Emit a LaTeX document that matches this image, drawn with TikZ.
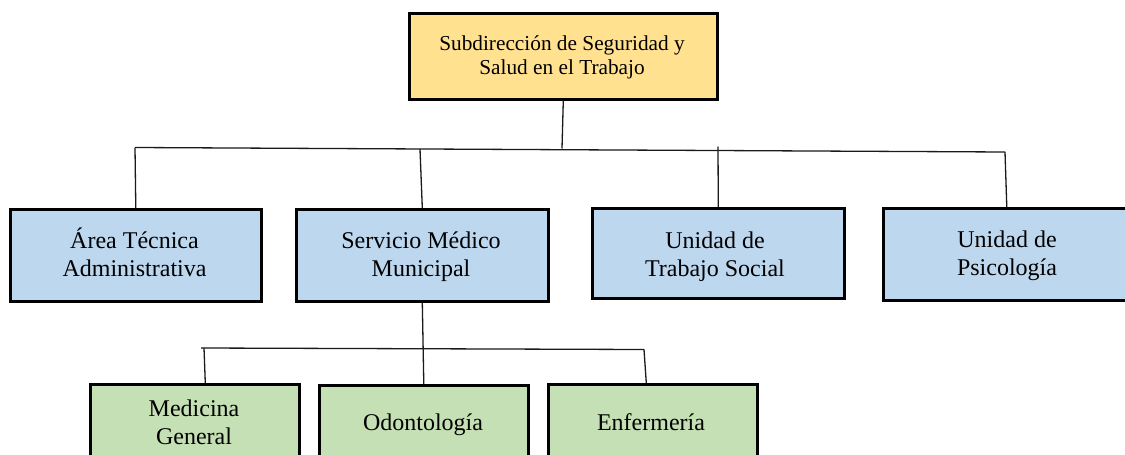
\documentclass[tikz,border=0pt]{standalone}
\usepackage{fontspec}
\setmainfont{Liberation Serif}
\definecolor{topfill}{HTML}{FFE190}
\definecolor{bluefill}{HTML}{BDD7EE}
\definecolor{greenfill}{HTML}{C5E0B4}
\definecolor{linecol}{HTML}{1A1A1A}
\begin{document}
\begin{tikzpicture}[x=1pt,y=-1pt,
  box/.style={draw=black, line width=2.6pt, inner sep=0pt, anchor=north west},
  topbox/.style={box, fill=topfill},
  bluebox/.style={box, fill=bluefill},
  greenbox/.style={box, fill=greenfill},
  toptxt/.style={anchor=base, inner sep=0pt, font=\fontsize{21.3}{24}\selectfont},
  txt/.style={anchor=base, inner sep=0pt, font=\fontsize{24}{28}\selectfont},
  conn/.style={draw=linecol, line width=1.3pt}]
\useasboundingbox (0,0) rectangle (1125,455);
\fill[white] (0,0) rectangle (1125,455);

% boxes
\node[topbox, minimum width=308pt, minimum height=86pt] (top) at (408,12) {};
\node[bluebox, minimum width=251pt, minimum height=92pt] (a) at (9,208) {};
\node[bluebox, minimum width=252pt, minimum height=92pt] (b) at (295,208) {};
\node[bluebox, minimum width=252pt, minimum height=90pt] (c) at (591,207) {};
\node[bluebox, minimum width=247pt, minimum height=92pt] (d) at (882,207) {};
\node[greenbox, minimum width=209pt, minimum height=90pt] (e) at (89,383) {};
\node[greenbox, minimum width=209pt, minimum height=90pt] (f) at (318,384) {};
\node[greenbox, minimum width=209pt, minimum height=90pt] (g) at (547,383) {};

% texts
\node[toptxt] (top1) at (562,50) {Subdirección de Seguridad y};
\node[toptxt] (top2) at (562,74) {Salud en el Trabajo};
\node[txt] (a1) at (134.5,248) {Área Técnica};
\node[txt] (a2) at (134.5,276) {Administrativa};
\node[txt] (b1) at (421,248) {Servicio Médico};
\node[txt] (b2) at (421,276) {Municipal};
\node[txt] (c1) at (715,248) {Unidad de};
\node[txt] (c2) at (715,276) {Trabajo Social};
\node[txt] (d1) at (1007,247) {Unidad de};
\node[txt] (d2) at (1007,275) {Psicología};
\node[txt] (e1) at (194,416) {Medicina};
\node[txt] (e2) at (194,444) {General};
\node[txt] (f1) at (423,430) {Odontología};
\node[txt] (g1) at (651,430) {Enfermería};

% bus coordinates
\coordinate (topJ) at (562,148.5);
\coordinate (busL) at (135,147.5);
\coordinate (busR) at (1005,152);
\coordinate (jb) at (420,149);
\coordinate (jc) at (718,146.5);
\coordinate (sbL) at (201,348);
\coordinate (je) at (204,348);
\coordinate (sbR) at (644,349.5);

% connectors
\draw[conn] (top.south) -- (topJ);
\draw[conn] (busL) -- (busR);
\draw[conn] (busL) -- (a.north);
\draw[conn] (jb) -- (b.north);
\draw[conn] (jc) -- (c.north);
\draw[conn] (busR) -- (d.north);
\draw[conn] (b.south) -- (f.north);
\draw[conn] (sbL) -- (sbR);
\draw[conn] (je) -- ([xshift=10.5pt]e.north);
\draw[conn] (sbR) -- ([xshift=-6.5pt]g.north);
\end{tikzpicture}
\end{document}
